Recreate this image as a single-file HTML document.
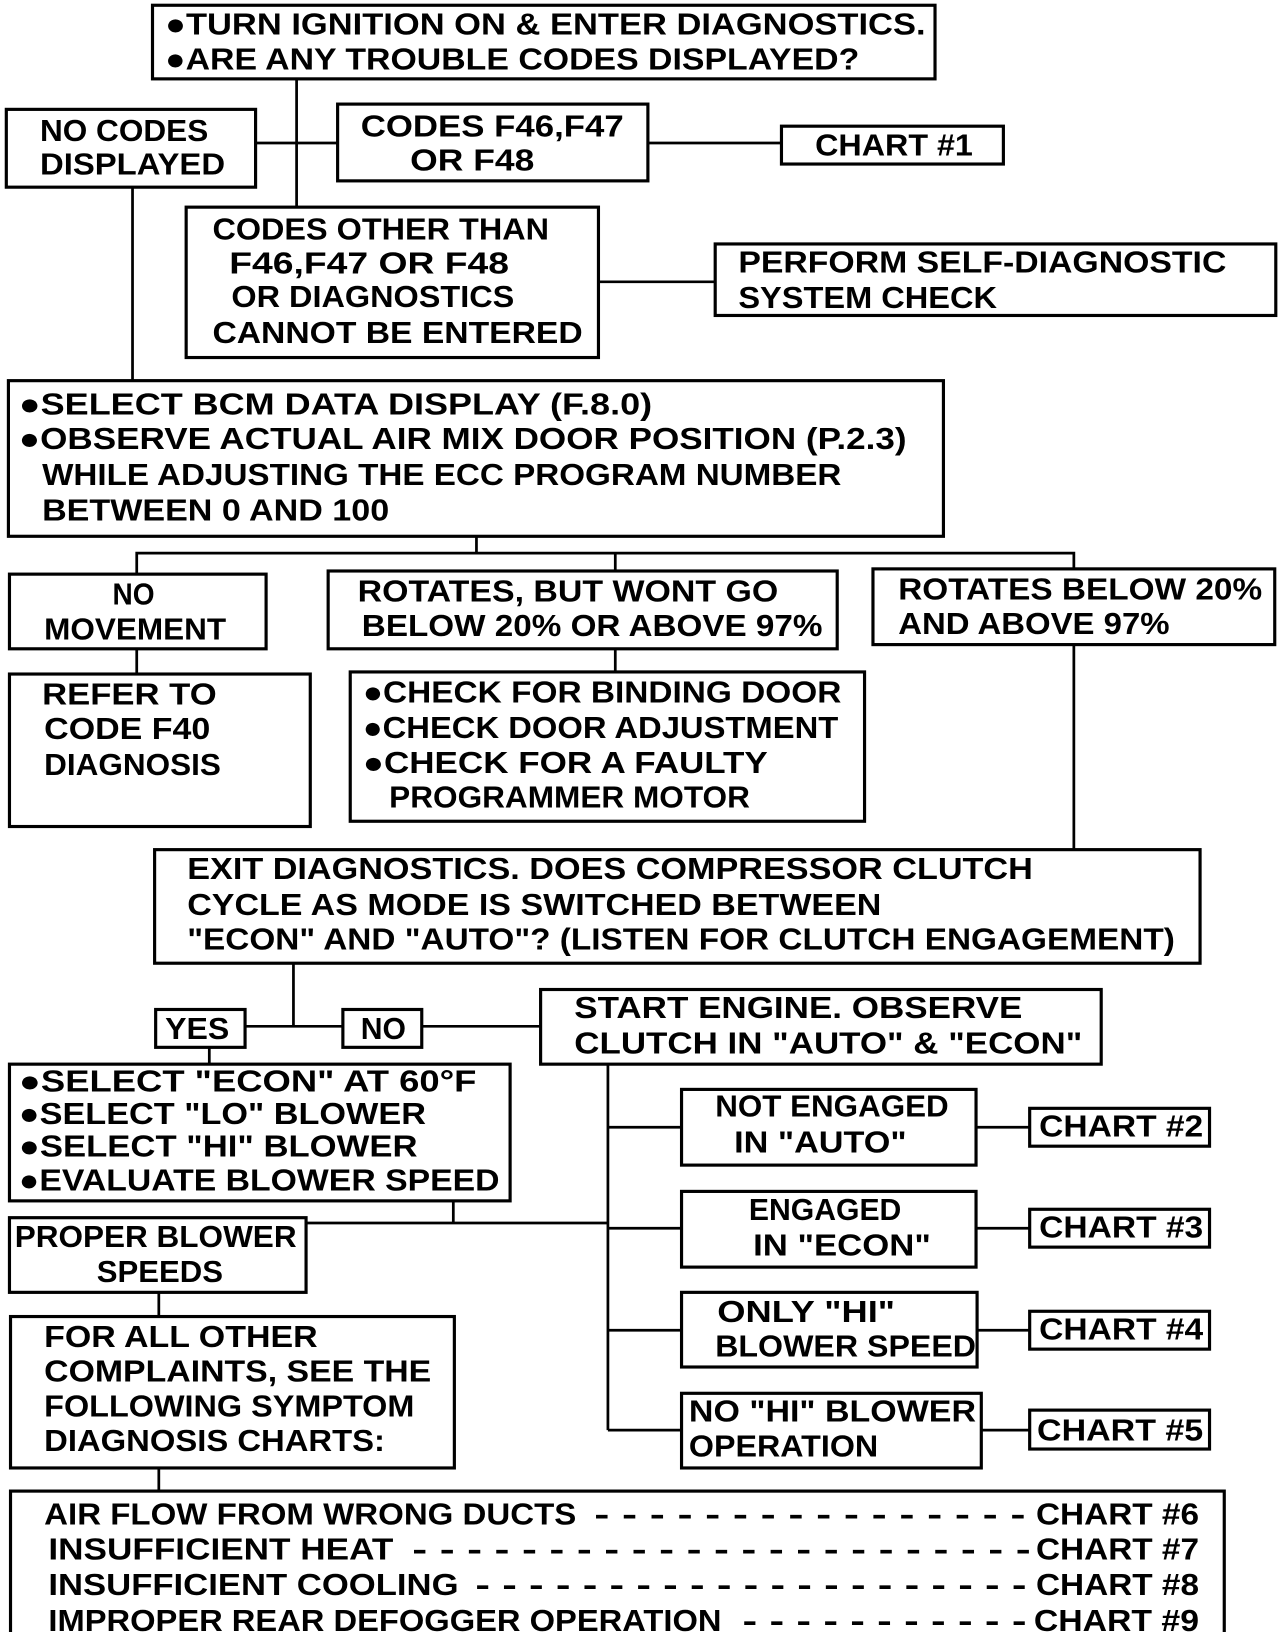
<!DOCTYPE html>
<html><head><meta charset="utf-8"><style>
html,body{margin:0;padding:0;background:#fff;}
svg{display:block;}
text{font-family:"Liberation Sans",sans-serif;font-size:29px;font-weight:bold;fill:#000;}
rect{fill:none;stroke:#000;stroke-width:3;}
line,polyline{stroke:#000;stroke-width:2.6;fill:none;}
</style></head><body>
<svg width="1280" height="1632" viewBox="0 0 1217 1552" preserveAspectRatio="none" xmlns="http://www.w3.org/2000/svg">
<!-- connectors -->
<line x1="282" y1="75" x2="282" y2="197"/>
<line x1="243" y1="136" x2="322" y2="136"/>
<line x1="616" y1="136" x2="743" y2="136"/>
<line x1="569" y1="268" x2="680" y2="268"/>
<line x1="126" y1="178" x2="126" y2="363"/>
<line x1="453" y1="510" x2="453" y2="526"/>
<polyline points="130,546 130,526 1021,526 1021,541"/>
<line x1="585" y1="526" x2="585" y2="543"/>
<line x1="130" y1="617" x2="130" y2="641"/>
<line x1="585" y1="617" x2="585" y2="639"/>
<line x1="1021" y1="613" x2="1021" y2="808"/>
<line x1="279" y1="916" x2="279" y2="976"/>
<line x1="233" y1="976" x2="326" y2="976"/>
<line x1="401" y1="976" x2="514" y2="976"/>
<line x1="199" y1="996" x2="199" y2="1012"/>
<line x1="578" y1="1012" x2="578" y2="1360"/>
<line x1="578" y1="1072" x2="648" y2="1072"/>
<line x1="578" y1="1168" x2="648" y2="1168"/>
<line x1="578" y1="1265" x2="648" y2="1265"/>
<line x1="578" y1="1360" x2="648" y2="1360"/>
<line x1="928" y1="1072" x2="979" y2="1072"/>
<line x1="928" y1="1168" x2="979" y2="1168"/>
<line x1="929" y1="1265" x2="979" y2="1265"/>
<line x1="933" y1="1360" x2="979" y2="1360"/>
<line x1="431" y1="1142" x2="431" y2="1163"/>
<line x1="291" y1="1163" x2="578" y2="1163"/>
<line x1="151" y1="1229" x2="151" y2="1252"/>
<line x1="151" y1="1396" x2="151" y2="1418"/>

<!-- boxes -->
<rect x="145" y="5" width="744" height="70"/>
<text x="157" y="33" textLength="723" lengthAdjust="spacingAndGlyphs">●TURN IGNITION ON &amp; ENTER DIAGNOSTICS.</text>
<text x="157" y="66" textLength="660" lengthAdjust="spacingAndGlyphs">●ARE ANY TROUBLE CODES DISPLAYED?</text>

<rect x="6" y="104" width="237" height="74"/>
<text x="38" y="134" textLength="160" lengthAdjust="spacingAndGlyphs">NO CODES</text>
<text x="38" y="166" textLength="176" lengthAdjust="spacingAndGlyphs">DISPLAYED</text>

<rect x="321" y="99" width="295" height="73"/>
<text x="343" y="130" textLength="250" lengthAdjust="spacingAndGlyphs">CODES F46,F47</text>
<text x="390" y="162" textLength="118" lengthAdjust="spacingAndGlyphs">OR F48</text>

<rect x="743" y="120" width="211" height="36"/>
<text x="775" y="148" textLength="150" lengthAdjust="spacingAndGlyphs">CHART #1</text>

<rect x="177" y="197" width="392" height="143"/>
<text x="202" y="228" textLength="320" lengthAdjust="spacingAndGlyphs">CODES OTHER THAN</text>
<text x="218" y="260" textLength="266" lengthAdjust="spacingAndGlyphs">F46,F47 OR F48</text>
<text x="220" y="292" textLength="269" lengthAdjust="spacingAndGlyphs">OR DIAGNOSTICS</text>
<text x="202" y="326" textLength="352" lengthAdjust="spacingAndGlyphs">CANNOT BE ENTERED</text>

<rect x="680" y="232" width="533" height="68"/>
<text x="702" y="259" textLength="464" lengthAdjust="spacingAndGlyphs">PERFORM SELF-DIAGNOSTIC</text>
<text x="702" y="293" textLength="246" lengthAdjust="spacingAndGlyphs">SYSTEM CHECK</text>

<rect x="8" y="362" width="889" height="148"/>
<text x="18" y="394" textLength="602" lengthAdjust="spacingAndGlyphs">●SELECT BCM DATA DISPLAY (F.8.0)</text>
<text x="18" y="427" textLength="844" lengthAdjust="spacingAndGlyphs">●OBSERVE ACTUAL AIR MIX DOOR POSITION (P.2.3)</text>
<text x="40" y="461" textLength="760" lengthAdjust="spacingAndGlyphs">WHILE ADJUSTING THE ECC PROGRAM NUMBER</text>
<text x="40" y="495" textLength="330" lengthAdjust="spacingAndGlyphs">BETWEEN 0 AND 100</text>

<rect x="9" y="546" width="244" height="71"/>
<text x="107" y="575" textLength="40" lengthAdjust="spacingAndGlyphs">NO</text>
<text x="42" y="608" textLength="173" lengthAdjust="spacingAndGlyphs">MOVEMENT</text>

<rect x="312" y="543" width="484" height="74"/>
<text x="340" y="572" textLength="400" lengthAdjust="spacingAndGlyphs">ROTATES, BUT WONT GO</text>
<text x="344" y="605" textLength="438" lengthAdjust="spacingAndGlyphs">BELOW 20% OR ABOVE 97%</text>

<rect x="830" y="541" width="382" height="72"/>
<text x="854" y="570" textLength="346" lengthAdjust="spacingAndGlyphs">ROTATES BELOW 20%</text>
<text x="854" y="603" textLength="258" lengthAdjust="spacingAndGlyphs">AND ABOVE 97%</text>

<rect x="9" y="641" width="286" height="145"/>
<text x="40" y="670" textLength="166" lengthAdjust="spacingAndGlyphs">REFER TO</text>
<text x="42" y="703" textLength="158" lengthAdjust="spacingAndGlyphs">CODE F40</text>
<text x="42" y="737" textLength="168" lengthAdjust="spacingAndGlyphs">DIAGNOSIS</text>

<rect x="333" y="639" width="489" height="142"/>
<text x="345" y="668" textLength="455" lengthAdjust="spacingAndGlyphs">●CHECK FOR BINDING DOOR</text>
<text x="345" y="702" textLength="452" lengthAdjust="spacingAndGlyphs">●CHECK DOOR ADJUSTMENT</text>
<text x="345" y="735" textLength="385" lengthAdjust="spacingAndGlyphs">●CHECK FOR A FAULTY</text>
<text x="370" y="768" textLength="343" lengthAdjust="spacingAndGlyphs">PROGRAMMER MOTOR</text>

<rect x="147" y="808" width="994" height="108"/>
<text x="178" y="836" textLength="804" lengthAdjust="spacingAndGlyphs">EXIT DIAGNOSTICS.  DOES COMPRESSOR CLUTCH</text>
<text x="178" y="870" textLength="660" lengthAdjust="spacingAndGlyphs">CYCLE AS MODE IS SWITCHED BETWEEN</text>
<text x="178" y="903" textLength="939" lengthAdjust="spacingAndGlyphs">"ECON" AND "AUTO"? (LISTEN FOR CLUTCH ENGAGEMENT)</text>

<rect x="148" y="960" width="85" height="36"/>
<text x="157" y="988" textLength="61" lengthAdjust="spacingAndGlyphs">YES</text>
<rect x="326" y="960" width="75" height="36"/>
<text x="343" y="988" textLength="43" lengthAdjust="spacingAndGlyphs">NO</text>

<rect x="514" y="941" width="533" height="71"/>
<text x="546" y="968" textLength="426" lengthAdjust="spacingAndGlyphs">START ENGINE.  OBSERVE</text>
<text x="546" y="1002" textLength="483" lengthAdjust="spacingAndGlyphs">CLUTCH IN "AUTO" &amp; "ECON"</text>

<rect x="9" y="1012" width="476" height="130"/>
<text x="18" y="1038" textLength="435" lengthAdjust="spacingAndGlyphs">●SELECT "ECON" AT 60°F</text>
<text x="18" y="1069" textLength="387" lengthAdjust="spacingAndGlyphs">●SELECT "LO" BLOWER</text>
<text x="18" y="1100" textLength="379" lengthAdjust="spacingAndGlyphs">●SELECT "HI" BLOWER</text>
<text x="18" y="1132" textLength="457" lengthAdjust="spacingAndGlyphs">●EVALUATE BLOWER SPEED</text>

<rect x="9" y="1158" width="282" height="71"/>
<text x="14" y="1186" textLength="268" lengthAdjust="spacingAndGlyphs">PROPER BLOWER</text>
<text x="92" y="1219" textLength="120" lengthAdjust="spacingAndGlyphs">SPEEDS</text>

<rect x="10" y="1252" width="422" height="144"/>
<text x="42" y="1281" textLength="260" lengthAdjust="spacingAndGlyphs">FOR ALL OTHER</text>
<text x="42" y="1314" textLength="368" lengthAdjust="spacingAndGlyphs">COMPLAINTS, SEE THE</text>
<text x="42" y="1347" textLength="352" lengthAdjust="spacingAndGlyphs">FOLLOWING SYMPTOM</text>
<text x="42" y="1380" textLength="324" lengthAdjust="spacingAndGlyphs">DIAGNOSIS CHARTS:</text>

<rect x="648" y="1036" width="280" height="72"/>
<text x="680" y="1062" textLength="222" lengthAdjust="spacingAndGlyphs">NOT ENGAGED</text>
<text x="698" y="1096" textLength="164" lengthAdjust="spacingAndGlyphs">IN "AUTO"</text>
<rect x="979" y="1054" width="171" height="36"/>
<text x="988" y="1081" textLength="156" lengthAdjust="spacingAndGlyphs">CHART #2</text>

<rect x="648" y="1133" width="280" height="72"/>
<text x="712" y="1160" textLength="145" lengthAdjust="spacingAndGlyphs">ENGAGED</text>
<text x="716" y="1194" textLength="169" lengthAdjust="spacingAndGlyphs">IN "ECON"</text>
<rect x="979" y="1150" width="171" height="36"/>
<text x="988" y="1177" textLength="156" lengthAdjust="spacingAndGlyphs">CHART #3</text>

<rect x="648" y="1229" width="281" height="71"/>
<text x="682" y="1257" textLength="169" lengthAdjust="spacingAndGlyphs">ONLY "HI"</text>
<text x="680" y="1290" textLength="248" lengthAdjust="spacingAndGlyphs">BLOWER SPEED</text>
<rect x="979" y="1247" width="171" height="36"/>
<text x="988" y="1274" textLength="156" lengthAdjust="spacingAndGlyphs">CHART #4</text>

<rect x="648" y="1325" width="285" height="71"/>
<text x="655" y="1352" textLength="273" lengthAdjust="spacingAndGlyphs">NO "HI" BLOWER</text>
<text x="655" y="1385" textLength="180" lengthAdjust="spacingAndGlyphs">OPERATION</text>
<rect x="979" y="1341" width="171" height="37"/>
<text x="986" y="1370" textLength="158" lengthAdjust="spacingAndGlyphs">CHART #5</text>

<rect x="10" y="1418" width="1154" height="147"/>
<text x="42" y="1450" textLength="506" lengthAdjust="spacingAndGlyphs">AIR FLOW FROM WRONG DUCTS</text>
<text x="565" y="1450" textLength="410" lengthAdjust="spacingAndGlyphs">- - - - - - - - - - - - - - - -</text>
<text x="985" y="1450" textLength="155" lengthAdjust="spacingAndGlyphs">CHART #6</text>
<text x="46" y="1483" textLength="328" lengthAdjust="spacingAndGlyphs">INSUFFICIENT HEAT</text>
<text x="392" y="1483" textLength="588" lengthAdjust="spacingAndGlyphs">- - - - - - - - - - - - - - - - - - - - - - -</text>
<text x="985" y="1483" textLength="155" lengthAdjust="spacingAndGlyphs">CHART #7</text>
<text x="46" y="1517" textLength="390" lengthAdjust="spacingAndGlyphs">INSUFFICIENT COOLING</text>
<text x="452" y="1517" textLength="524" lengthAdjust="spacingAndGlyphs">- - - - - - - - - - - - - - - - - - - - -</text>
<text x="985" y="1517" textLength="155" lengthAdjust="spacingAndGlyphs">CHART #8</text>
<text x="46" y="1551" textLength="640" lengthAdjust="spacingAndGlyphs">IMPROPER REAR DEFOGGER OPERATION</text>
<text x="706" y="1551" textLength="270" lengthAdjust="spacingAndGlyphs">- - - - - - - - - - -</text>
<text x="983" y="1551" textLength="157" lengthAdjust="spacingAndGlyphs">CHART #9</text>
</svg>
</body></html>
